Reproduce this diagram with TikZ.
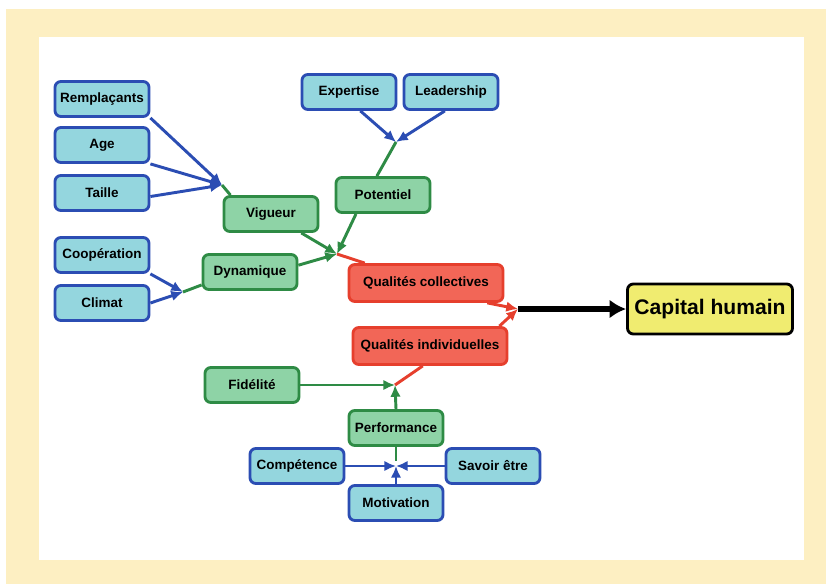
\documentclass[tikz,border=0pt]{standalone}
\usepackage{fontspec}
\setmainfont{Liberation Sans}
\usepackage{tikz}
\usetikzlibrary{arrows.meta, positioning, calc}

\definecolor{cream}{HTML}{FDEFC2}
\definecolor{bfill}{HTML}{94D6DE}
\definecolor{bdraw}{HTML}{2B4DB3}
\definecolor{gfill}{HTML}{8ED3A6}
\definecolor{gdraw}{HTML}{2E8B45}
\definecolor{rfill}{HTML}{F26657}
\definecolor{rdraw}{HTML}{E63F2D}
\definecolor{yfill}{HTML}{F0EC70}

\begin{document}
\begin{tikzpicture}[
  x=0.03cm, y=-0.03cm,
  box/.style={draw, rounded corners=5pt, line width=2.4pt, minimum width=2.82cm,
    minimum height=1.05cm, inner sep=2pt, font=\fontsize{11.5}{13}\selectfont\bfseries},
  bbox/.style={box, draw=bdraw, fill=bfill},
  gbox/.style={box, draw=gdraw, fill=gfill},
  rbox/.style={box, draw=rdraw, fill=rfill, minimum width=4.62cm, minimum height=1.11cm},
  ybox/.style={box, draw=black, fill=yfill, minimum width=4.95cm, minimum height=1.5cm,
    font=\fontsize{18}{20}\selectfont\bfseries},
  barrow/.style={draw=bdraw, line width=2.5pt, -{Latex[length=10pt,width=9pt]}},
  garrow/.style={draw=gdraw, line width=2.5pt, -{Latex[length=10pt,width=9pt]}},
  rarrow/.style={draw=rdraw, line width=2.5pt, -{Latex[length=10pt,width=9pt]}},
  gline/.style={draw=gdraw, line width=2.5pt},
  rline/.style={draw=rdraw, line width=2.5pt},
  karrow/.style={draw=black, line width=4.5pt, -{Latex[length=14pt,width=16pt]}},
]
  % Frame
  \useasboundingbox (0,0) rectangle (826,584);
  \fill[cream] (6,9) rectangle (826,584);
  \fill[white] (39,37) rectangle (804,560);

  % Junction points
  \coordinate (jv) at (222,185);
  \coordinate (jd) at (183,292);
  \coordinate (jp) at (396,142);
  \coordinate (jc) at (337,254);
  \coordinate (jq) at (518,309);
  \coordinate (jf) at (395,385);
  \coordinate (jm) at (396,466);

  % Blue factors
  \node[bbox] (rempl)  at (102,99)  {Remplaçants};
  \node[bbox] (age)    at (102,145) {Age};
  \node[bbox] (taille) at (102,193) {Taille};
  \node[bbox] (coop)   at (102,255) {Coopération};
  \node[bbox] (climat) at (102,303) {Climat};
  \node[bbox] (expert) at (349,92)  {Expertise};
  \node[bbox] (lead)   at (451,92)  {Leadership};
  \node[bbox] (compet) at (297,466) {Compétence};
  \node[bbox] (savoir) at (493,466) {Savoir être};
  \node[bbox] (motiv)  at (396,503) {Motivation};

  % Green criteria
  \node[gbox] (vig)    at (271,214) {Vigueur};
  \node[gbox] (dyn)    at (250,272) {Dynamique};
  \node[gbox] (pot)    at (383,195) {Potentiel};
  \node[gbox] (fid)    at (252,385) {Fidélité};
  \node[gbox] (perf)   at (396,428) {Performance};

  % Red qualities and result
  \node[rbox] (qcoll)  at (426,283) {Qualités collectives};
  \node[rbox] (qind)   at (430,346) {Qualités individuelles};
  \node[ybox] (cap)    at (710,309) {Capital humain};

  % Vigueur
  \draw[barrow] (rempl.south east) -- (jv);
  \draw[barrow] (age.south east) -- (jv);
  \draw[barrow] ([yshift=-3pt]taille.east) -- (jv);
  \draw[gline] (jv) -- (vig.155);

  % Dynamique
  \draw[barrow] (coop.south east) -- (jd);
  \draw[barrow] (climat.east) -- (jd);
  \draw[gline] (jd) -- (dyn.195);

  % Potentiel
  \draw[barrow] (expert.-59) -- (jp);
  \draw[barrow] (lead.-108) -- (jp);
  \draw[gline] (jp) -- (pot.108);

  % Qualites collectives
  \draw[garrow] (vig.-32) -- (jc);
  \draw[garrow] (dyn.8) -- (jc);
  \draw[garrow] (pot.215) -- (jc);
  \draw[rline] (jc) -- (qcoll.162);

  % Performance
  \draw[barrow] (compet.east) -- (jm);
  \draw[barrow] (savoir.west) -- (jm);
  \draw[barrow] (motiv.north) -- (jm);
  \draw[gline, shorten >=4pt] (perf.south) -- (jm);

  % Qualites individuelles
  \draw[garrow] (fid.east) -- (jf);
  \draw[garrow] (perf.north) -- (jf);
  \draw[rline] (jf) -- (qind.-110);

  % Capital humain
  \draw[rarrow] (qcoll.-18) -- (jq);
  \draw[rarrow] (qind.16) -- (jq);
  \draw[karrow] (jq) -- (cap);
\end{tikzpicture}
\end{document}
